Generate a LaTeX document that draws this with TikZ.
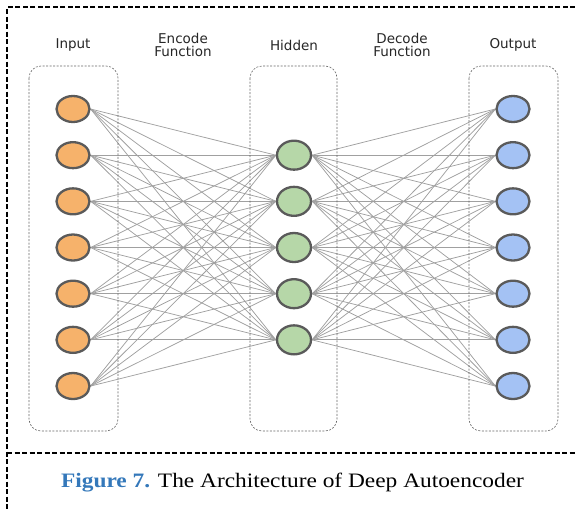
\documentclass[tikz,border=0pt]{standalone}
\usepackage{fontspec}
\setmainfont{Liberation Serif}
\newfontfamily\labelfont{DejaVu Sans}
\usetikzlibrary{shapes.geometric,backgrounds}
\definecolor{inorange}{HTML}{F6B26B}
\definecolor{hidgreen}{HTML}{B6D7A8}
\definecolor{outblue}{HTML}{A4C2F4}
\definecolor{rimgray}{HTML}{5A5A5A}
\definecolor{wiregray}{HTML}{A0A0A0}
\definecolor{figblue}{HTML}{3478BA}
\tikzset{
  unit/.style={ellipse, draw=rimgray, line width=2.3pt, minimum width=33pt, minimum height=26pt, inner sep=0pt},
  inunit/.style={unit, fill=inorange},
  hidunit/.style={unit, fill=hidgreen, minimum width=34pt, minimum height=29pt},
  outunit/.style={unit, fill=outblue},
  layerbox/.style={draw=gray!80!black, dash pattern=on 2pt off 1.5pt, line width=0.6pt, rounded corners=12pt},
  wire/.style={draw=wiregray, line width=0.75pt},
  frame/.style={draw=black, line width=2pt, dash pattern=on 5pt off 2.5pt},
  layerlabel/.style={font=\labelfont\fontsize{13.5}{13}\selectfont, text=black!85, align=center}
}
\begin{document}
\begin{tikzpicture}[x=1pt, y=-1pt]
\useasboundingbox (0,0) rectangle (575,509);
% outer frame
\draw[frame] (575,7) -- (7,7) -- (7,509);
\draw[frame] (7,453) -- (575,453);
% layer boxes
\draw[layerbox] (29,66) rectangle (118,431);
\draw[layerbox] (250,66) rectangle (337,431);
\draw[layerbox] (469,66) rectangle (558,431);
% titles
\node[layerlabel] (tin) at (73,45) {Input};
\node[layerlabel] (tenc) at (183,45) {Encode\\Function};
\node[layerlabel] (thid) at (294,45) {Hidden};
\node[layerlabel] (tdec) at (402,45) {Decode\\Function};
\node[layerlabel] (tout) at (513,45) {Output};
% units
\foreach \i in {0,...,6} {
  \node[inunit] (i\i) at (73,{109+46.17*\i}) {};
  \node[outunit] (o\i) at (513,{109+46.17*\i}) {};
}
\foreach \j in {1,...,5} {
  \node[hidunit] (h\j) at (294,{109+46.17*\j}) {};
}
% full connections, behind the units
\begin{scope}[on background layer]
\foreach \i in {0,...,6} {
  \foreach \j in {1,...,5} {
    \draw[wire] (i\i.east) -- (h\j.west);
    \draw[wire] (h\j.east) -- (o\i.west);
  }
}
\end{scope}
% caption
\node (cap) at (292.5,483) {\scalebox{1.14}[1]{\fontsize{20.5}{22}\selectfont\textcolor{figblue}{\textbf{Figure 7.}} The Architecture of Deep Autoencoder}};
\end{tikzpicture}
\end{document}
